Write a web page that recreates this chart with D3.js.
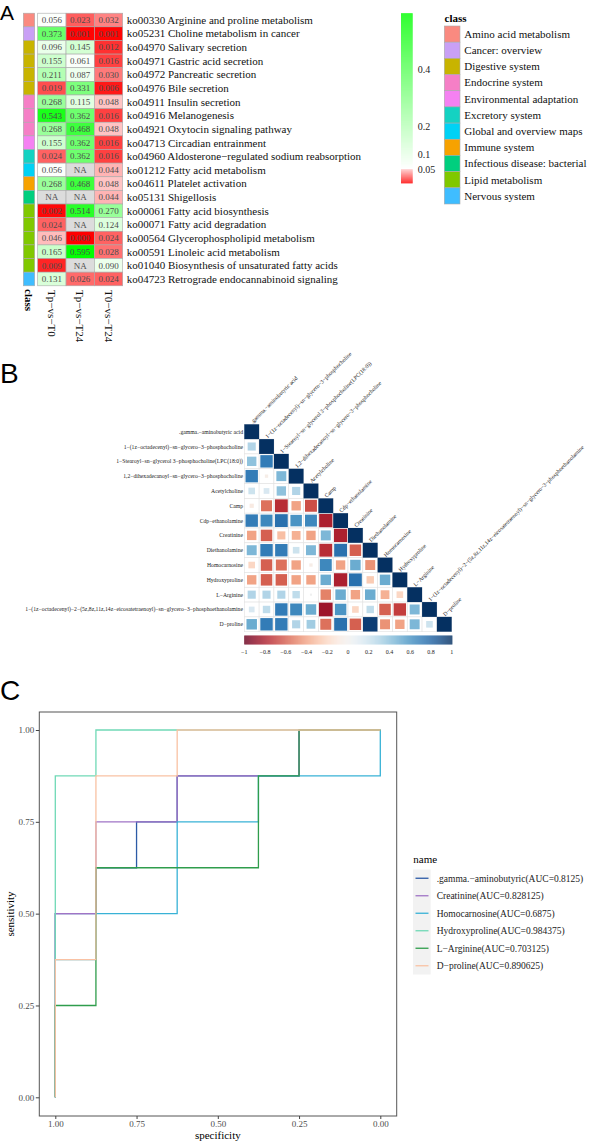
<!DOCTYPE html>
<html>
<head>
<meta charset="utf-8">
<script src="https://cdn.jsdelivr.net/npm/d3@7"></script>
<style>body{margin:0;background:#fff}</style>
</head>
<body>
<script>
// ---------- panel A : KEGG enrichment p-values
const koIds = ["ko00330","ko05231","ko04970","ko04971","ko04972","ko04976","ko04911","ko04916","ko04921","ko04713",
  "ko04960","ko01212","ko04611","ko05131","ko00061","ko00071","ko00564","ko00591","ko01040","ko04723"];
const koNames = ["Arginine and proline metabolism","Choline metabolism in cancer","Salivary secretion","Gastric acid secretion",
  "Pancreatic secretion","Bile secretion","Insulin secretion","Melanogenesis","Oxytocin signaling pathway","Circadian entrainment",
  "Aldosterone−regulated sodium reabsorption","Fatty acid metabolism","Platelet activation","Shigellosis","Fatty acid biosynthesis",
  "Fatty acid degradation","Glycerophospholipid metabolism","Linoleic acid metabolism","Biosynthesis of unsaturated fatty acids",
  "Retrograde endocannabinoid signaling"];
const koClass = ["Amino acid metabolism","Cancer: overview","Digestive system","Digestive system","Digestive system","Digestive system",
  "Endocrine system","Endocrine system","Endocrine system","Environmental adaptation","Excretory system","Global and overview maps",
  "Immune system","Infectious disease: bacterial","Lipid metabolism","Lipid metabolism","Lipid metabolism","Lipid metabolism",
  "Lipid metabolism","Nervous system"];
const contrasts = ["Tp−vs−T0","Tp−vs−T24","T0−vs−T24"];
const pTpT0  = [0.056,0.373,0.096,0.155,0.211,0.019,0.268,0.543,0.268,0.155,0.024,0.056,0.268,null,0.002,0.024,0.046,0.165,0.009,0.131];
const pTpT24 = [0.023,0.001,0.145,0.061,0.087,0.331,0.115,0.362,0.468,0.362,0.362,null,0.468,null,0.514,null,0.000,0.595,null,0.026];
const pT0T24 = [0.032,0.001,0.012,0.016,0.030,0.006,0.048,0.016,0.048,0.016,0.016,0.044,0.048,0.044,0.270,0.124,0.024,0.028,0.090,0.024];
const classNames = ["Amino acid metabolism","Cancer: overview","Digestive system","Endocrine system","Environmental adaptation",
  "Excretory system","Global and overview maps","Immune system","Infectious disease: bacterial","Lipid metabolism","Nervous system"];
const classColors = ["#fa8a80","#c9a0f5","#c8b400","#f57fc6","#f581f2","#14d2c2","#00d2f5","#f7a200","#00cf7e","#80c800","#3fbdff"];
const pLegendTicks = [0.05,0.1,0.2,0.4];

// ---------- panel B : correlation matrix (lower triangle)
const metabolites = [".gamma.−aminobutyric acid","1−(1z−octadecenyl)−sn−glycero−3−phosphocholine",
  "1−Stearoyl−sn−glycerol 3−phosphocholine(LPC(18:0))","1,2−dihexadecanoyl−sn−glycero−3−phosphocholine",
  "Acetylcholine","Camp","Cdp−ethanolamine","Creatinine","Diethanolamine","Homocarnosine","Hydroxyproline","L−Arginine",
  "1−(1z−octadecenyl)−2−(5z,8z,11z,14z−eicosatetraenoyl)−sn−glycero−3−phosphoethanolamine","D−proline"];
const corrLower = [
  [1],
  [0.3,1],
  [0.4,0.7,1],
  [0.7,-0.05,0.45,1],
  [0.2,0.15,0.4,0.3,1],
  [-0.08,-0.55,-0.75,-0.4,-0.65,1],
  [0.7,0.65,0.75,0.6,0.65,-0.8,1],
  [-0.4,-0.6,-0.3,-0.35,-0.4,0.45,-0.8,1],
  [0.45,0.7,0.7,0.2,0.45,-0.75,0.75,-0.6,1],
  [-0.2,-0.6,-0.55,-0.4,-0.05,0.65,-0.4,0.5,-0.45,1],
  [-0.4,-0.6,-0.6,-0.4,-0.4,0.5,-0.8,0.75,-0.25,0.5,1],
  [0.3,0.3,0.3,0.25,0.02,-0.5,0.5,-0.4,0.5,-0.35,-0.2,1],
  [0.15,0.25,0.7,0.65,0.5,-0.85,0.6,-0.2,0.25,-0.6,-0.7,0.45,1],
  [0.5,0.7,0.7,0.3,0.35,-0.55,0.75,-0.6,0.95,-0.45,-0.4,0.45,0.2,1]
];
const corrTicks = [-1,-0.8,-0.6,-0.4,-0.2,0,0.2,0.4,0.6,0.8,1];

// ---------- panel C : ROC curves, [specificity, sensitivity]
const rocNames = [".gamma.−aminobutyric","Creatinine","Homocarnosine","Hydroxyproline","L−Arginine","D−proline"];
const rocAUC = ["0.8125","0.828125","0.6875","0.984375","0.703125","0.890625"];
const rocColors = ["#2c5aa6","#a074c6","#38b2d6","#70d9b6","#2f9d4c","#f9c2a4"];
const rocGaba = [[1,0],[1,0.5],[0.875,0.5],[0.875,0.625],[0.75,0.625],[0.75,0.75],[0.625,0.75],[0.625,0.875],[0.25,0.875],[0.25,1],[0,1]];
const rocCreatinine = [[1,0],[1,0.5],[0.875,0.5],[0.875,0.75],[0.625,0.75],[0.625,0.875],[0.25,0.875],[0.25,1],[0,1]];
const rocHomocarnosine = [[1,0],[1,0.375],[0.875,0.375],[0.875,0.5],[0.625,0.5],[0.625,0.75],[0.375,0.75],[0.375,0.875],[0,0.875],[0,1]];
const rocHydroxyproline = [[1,0],[1,0.875],[0.875,0.875],[0.875,1],[0,1]];
const rocArginine = [[1,0],[1,0.25],[0.875,0.25],[0.875,0.625],[0.375,0.625],[0.375,0.875],[0.25,0.875],[0.25,1],[0,1]];
const rocProline = [[1,0],[1,0.375],[0.875,0.375],[0.875,0.875],[0.625,0.875],[0.625,1],[0,1]];
const rocTicks = [0,0.25,0.5,0.75,1];

const serif = "'Liberation Serif','Times New Roman',serif";
const svg = d3.select("body").append("svg")
  .attr("width", 590).attr("height", 1143)
  .style("font-family", serif);

// panel letters
[["A",19.5,21],["B",383,28],["C",700,28]].forEach(p => {
  svg.append("text").attr("x", 0).attr("y", p[1]).text(p[0])
    .style("font-family", "'Liberation Sans',Arial,sans-serif").style("font-size", p[2] + "px");
});

// ================= A
const rowsA = koIds.map((id, i) => ({id, label: id + " " + koNames[i], cls: koClass[i], vals: [pTpT0[i], pTpT24[i], pT0T24[i]]}));
const yA = d3.scaleBand().domain(koIds).range([13.2, 285.8]);
const xA = d3.scaleBand().domain(contrasts).range([37.7, 122.7]);
const pColor = d3.scaleLinear().domain([0, 0.05, 0.0501, 0.6]).range(["#ff0000", "#ffcccc", "#ffffff", "#00ff00"]);
const classColor = d3.scaleOrdinal().domain(classNames).range(classColors);
const fmt3 = d3.format(".3f");

const gA = svg.append("g");
gA.selectAll("rect.cls").data(rowsA).enter().append("rect")
  .attr("x", 23.3).attr("width", 11.4)
  .attr("y", d => yA(d.id)).attr("height", yA.bandwidth())
  .attr("fill", d => classColor(d.cls)).attr("stroke", "#aaa").attr("stroke-width", 0.6);

const cellsA = rowsA.flatMap(r => r.vals.map((v, j) => ({id: r.id, col: contrasts[j], v})));
gA.selectAll("rect.cell").data(cellsA).enter().append("rect")
  .attr("x", d => xA(d.col)).attr("width", xA.bandwidth())
  .attr("y", d => yA(d.id)).attr("height", yA.bandwidth())
  .attr("fill", d => d.v == null ? "#dcdcdc" : pColor(d.v))
  .attr("stroke", "#aaa").attr("stroke-width", 0.6);
gA.selectAll("text.num").data(cellsA).enter().append("text")
  .attr("x", d => xA(d.col) + xA.bandwidth() / 2)
  .attr("y", d => yA(d.id) + yA.bandwidth() / 2)
  .attr("dy", "0.35em").attr("text-anchor", "middle")
  .style("font-size", "9px").attr("fill", "#4d4d4d")
  .text(d => d.v == null ? "NA" : fmt3(d.v));

gA.selectAll("text.row").data(rowsA).enter().append("text")
  .attr("x", 126.7).attr("y", d => yA(d.id) + yA.bandwidth() / 2)
  .attr("dy", "0.35em").style("font-size", "11px").attr("fill", "#111")
  .text(d => d.label);

gA.selectAll("text.col").data(contrasts).enter().append("text")
  .attr("transform", d => `translate(${xA(d) + xA.bandwidth() / 2},290) rotate(90)`)
  .attr("dy", "0.35em").style("font-size", "11px").attr("fill", "#111").text(d => d);
gA.append("text").attr("transform", "translate(29,289) rotate(90)")
  .attr("dy", "0.35em").style("font-size", "11px").style("font-weight", "bold").text("class");

// p-value legend
const yLeg = d3.scaleLinear().domain([0, 0.6]).range([183.3, 13.3]);
d3.range(13.3, 183.3, 1).forEach(y => {
  gA.append("rect").attr("x", 401).attr("y", y).attr("width", 11.7).attr("height", 1.05)
    .attr("fill", pColor(yLeg.invert(y + 0.5)));
});
gA.selectAll("text.leg").data(pLegendTicks).enter().append("text")
  .attr("x", 417.7).attr("y", d => yLeg(d)).attr("dy", "0.35em")
  .style("font-size", "10px").attr("fill", "#222").text(d => d);

// class legend
gA.append("text").attr("x", 444.5).attr("y", 22).style("font-size", "11px").style("font-weight", "bold").text("class");
const yCls = d3.scaleBand().domain(classNames).range([26, 204]);
gA.selectAll("rect.ck").data(classNames).enter().append("rect")
  .attr("x", 444.3).attr("width", 15.7).attr("y", d => yCls(d)).attr("height", yCls.bandwidth())
  .attr("fill", d => classColor(d)).attr("stroke", "#aaa").attr("stroke-width", 0.6);
gA.selectAll("text.ck").data(classNames).enter().append("text")
  .attr("x", 464.3).attr("y", d => yCls(d) + yCls.bandwidth() / 2).attr("dy", "0.35em")
  .style("font-size", "11px").attr("fill", "#111").text(d => d);

// ================= B
const xB = d3.scaleBand().domain(d3.range(metabolites.length)).range([244.3, 451.7]);
const yB = d3.scaleBand().domain(d3.range(metabolites.length)).range([424.3, 631.7]);
const bw = xB.bandwidth();
const corrCells = corrLower.flatMap((row, i) => row.map((r, j) => ({i, j, r})));
const side = r => bw * Math.sqrt(Math.abs(r));
const gB = svg.append("g");
gB.selectAll("rect.grid").data(corrCells).enter().append("rect")
  .attr("x", d => xB(d.j)).attr("y", d => yB(d.i)).attr("width", bw).attr("height", bw)
  .attr("fill", "#fff").attr("stroke", "#e2e2e2").attr("stroke-width", 0.6);
gB.selectAll("rect.sq").data(corrCells).enter().append("rect")
  .attr("x", d => xB(d.j) + (bw - side(d.r)) / 2)
  .attr("y", d => yB(d.i) + (bw - side(d.r)) / 2)
  .attr("width", d => side(d.r)).attr("height", d => side(d.r))
  .attr("fill", d => d3.interpolateRdBu((d.r + 1) / 2));
gB.selectAll("text.rl").data(metabolites).enter().append("text")
  .attr("x", 243).attr("y", (d, i) => yB(i) + bw / 2).attr("dy", "0.35em")
  .attr("text-anchor", "end").style("font-size", "5.7px").attr("fill", "#222").text(d => d);
gB.selectAll("text.cl").data(metabolites).enter().append("text")
  .attr("transform", (d, i) => `translate(${xB(i) + bw / 2 + 1},${yB(i) - 0.5}) rotate(-45)`)
  .style("font-size", "5.7px").attr("fill", "#222").text(d => d);

// colour bar
const xCb = d3.scaleLinear().domain([-1, 1]).range([244.3, 451.7]);
d3.range(244.3, 451.7, 1).forEach(x => {
  gB.append("rect").attr("x", x).attr("y", 635.5).attr("width", 1.05).attr("height", 9)
    .attr("fill", d3.interpolateRdBu((xCb.invert(x + 0.5) + 1) / 2));
});
gB.selectAll("text.cb").data(corrTicks).enter().append("text")
  .attr("x", d => xCb(d)).attr("y", 652).attr("dy", "0.35em").attr("text-anchor", "middle")
  .style("font-size", "6px").attr("fill", "#222").text(d3.format("~g"));

// ================= C
const xC = d3.scaleLinear().domain([1, 0]).range([55.3, 380.3]);
const yC = d3.scaleLinear().domain([0, 1]).range([1097.3, 730]);
const gC = svg.append("g");
gC.append("rect").attr("x", 39.3).attr("y", 712).attr("width", 357.4).attr("height", 404)
  .attr("fill", "#fff").attr("stroke", "#555").attr("stroke-width", 1);

const axL = gC.append("g").attr("transform", "translate(39.3,0)")
  .call(d3.axisLeft(yC).tickValues(rocTicks).tickFormat(d3.format(".2f")).tickSize(3.5).tickPadding(1.5));
const axB = gC.append("g").attr("transform", "translate(0,1116)")
  .call(d3.axisBottom(xC).tickValues(rocTicks).tickFormat(d3.format(".2f")).tickSize(3).tickPadding(1.5));
[axL, axB].forEach(ax => {
  ax.select(".domain").remove();
  ax.selectAll(".tick line").attr("stroke", "#444");
  ax.selectAll(".tick text").attr("fill", "#4d4d4d").style("font-size", "9px").style("font-family", serif);
});
gC.append("text").attr("x", 217.8).attr("y", 1139).attr("text-anchor", "middle")
  .style("font-size", "11px").text("specificity");
gC.append("text").attr("transform", "translate(14,914) rotate(-90)").attr("text-anchor", "middle")
  .style("font-size", "11px").text("sensitivity");

const rocData = [rocGaba, rocCreatinine, rocHomocarnosine, rocHydroxyproline, rocArginine, rocProline];
const line = d3.line().x(d => xC(d[0])).y(d => yC(d[1]));
gC.selectAll("path.roc").data(rocData).enter().append("path")
  .attr("d", line).attr("fill", "none")
  .attr("stroke", (d, i) => rocColors[i]).attr("stroke-width", 1.3);

// legend
gC.append("text").attr("x", 413.3).attr("y", 863).style("font-size", "11px").text("name");
const yKey = d3.scaleBand().domain(rocNames).range([869.5, 974.5]);
gC.append("rect").attr("x", 413).attr("y", 869.5).attr("width", 17.7).attr("height", 105).attr("fill", "#f2f2f2");
gC.selectAll("line.key").data(rocNames).enter().append("line")
  .attr("x1", 415.5).attr("x2", 428.5)
  .attr("y1", d => yKey(d) + yKey.bandwidth() / 2).attr("y2", d => yKey(d) + yKey.bandwidth() / 2)
  .attr("stroke", (d, i) => rocColors[i]).attr("stroke-width", 1.3);
gC.selectAll("text.key").data(rocNames).enter().append("text")
  .attr("x", 436.7).attr("y", d => yKey(d) + yKey.bandwidth() / 2).attr("dy", "0.35em")
  .style("font-size", "9.5px").attr("fill", "#222")
  .text((d, i) => `${d}(AUC=${rocAUC[i]})`);
</script>
</body>
</html>
